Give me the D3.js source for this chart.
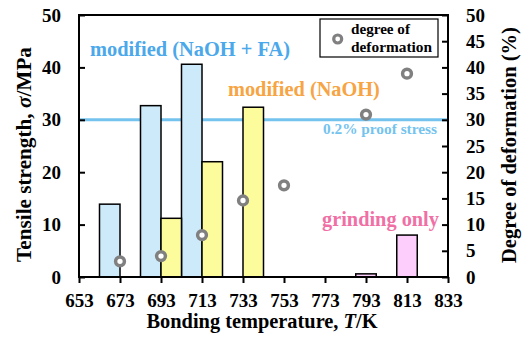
<!DOCTYPE html>
<html>
<head>
<meta charset="utf-8">
<script src="https://cdn.jsdelivr.net/npm/d3@7"></script>
</head>
<body style="margin:0; background:#fff">
<svg id="chart"></svg>
<script>
// temperature ticks (K)
const tempTicks = [653, 673, 693, 713, 733, 753, 773, 793, 813, 833];

// tensile strength (MPa)
const faTemps = [673, 693, 713];
const faStrength = [13.9, 32.7, 40.6];
const naohTemps = [693, 713, 733];
const naohStrength = [11.2, 22.0, 32.4];
const grindTemps = [793, 813];
const grindStrength = [0.6, 8.0];

// degree of deformation (%)
const defTemps = [673, 693, 713, 733, 753, 793, 813];
const deformation = [3.0, 4.0, 8.0, 14.6, 17.5, 31.0, 38.8];

const proofStress = 30;

const FONT = "'Liberation Serif', 'Times New Roman', serif";

const svgWidth = 523, svgHeight = 339;
const margin = { top: 15, bottom: 62, left: 79, right: 75 };
const width = svgWidth - margin.left - margin.right;
const height = svgHeight - margin.top - margin.bottom;

const svg = d3.select('#chart')
  .attr('width', svgWidth)
  .attr('height', svgHeight);
const g = svg.append('g')
  .attr('transform', 'translate(' + margin.left + ',' + margin.top + ')');

const x = d3.scaleLinear().domain([653, 833]).range([0, width]);
const y = d3.scaleLinear().domain([0, 50]).range([height, 0]);
const y2 = d3.scaleLinear().domain([0, 50]).range([height, 0]);

const barW = 10; // K

function setFont(sel, size) {
  return sel.attr('style', 'font-family:' + FONT + ';font-weight:bold;font-size:' + size + 'px');
}
// scale the font so the text spans the given width
function fit(sel, w) {
  const len = sel.node().getComputedTextLength();
  const fs = parseFloat(sel.node().style.fontSize);
  setFont(sel, (fs * w / len).toFixed(2));
  return sel;
}

function drawBars(temps, vals, offset, fill) {
  g.append('g').selectAll('rect')
    .data(temps.map((t, i) => [t, vals[i]]))
    .enter()
    .append('rect')
    .attr('x', d => x(d[0] + offset - barW / 2))
    .attr('width', d => x(d[0] + offset + barW / 2) - x(d[0] + offset - barW / 2))
    .attr('y', d => y(d[1]))
    .attr('height', d => y(0) - y(d[1]))
    .attr('fill', fill)
    .attr('stroke', '#000')
    .attr('stroke-width', 1.5);
}

// proof stress line
g.append('line')
  .attr('x1', 0).attr('x2', width)
  .attr('y1', y(proofStress)).attr('y2', y(proofStress))
  .attr('stroke', '#74c3ef')
  .attr('stroke-width', 3);

drawBars(faTemps, faStrength, -5, '#cdeafb');
drawBars(naohTemps, naohStrength, 5, '#fdfc9c');
drawBars(grindTemps, grindStrength, 0, '#fdcefb');

// deformation points
g.append('g').selectAll('circle')
  .data(defTemps.map((t, i) => [t, deformation[i]]))
  .enter()
  .append('circle')
  .attr('cx', d => x(d[0]))
  .attr('cy', d => y2(d[1]))
  .attr('r', 4.4)
  .attr('fill', '#fff')
  .attr('stroke', '#808080')
  .attr('stroke-width', 3.5);

function styleAxis(sel) {
  sel.attr('font-family', null).attr('font-size', null);
  sel.select('.domain').remove();
  sel.selectAll('line').attr('stroke', '#000').attr('stroke-width', 2);
  sel.selectAll('text').attr('fill', '#000').call(setFont, 19);
}

// axes
g.append('g')
  .attr('transform', 'translate(0,' + height + ')')
  .call(d3.axisBottom(x).tickValues(tempTicks).tickSize(6).tickSizeOuter(0).tickPadding(11).tickFormat(d3.format('d')))
  .call(styleAxis);
g.append('g')
  .call(d3.axisLeft(y).tickValues([0, 10, 20, 30, 40, 50]).tickSize(-6).tickSizeOuter(0).tickPadding(18))
  .call(styleAxis);
g.append('g')
  .attr('transform', 'translate(' + width + ',0)')
  .call(d3.axisRight(y2).ticks(10).tickSize(-6).tickSizeOuter(0).tickPadding(18))
  .call(styleAxis);

// frame
g.append('rect')
  .attr('width', width).attr('height', height)
  .attr('fill', 'none')
  .attr('stroke', '#000')
  .attr('stroke-width', 2);

// annotations (absolute coordinates)
svg.append('text').attr('x', 90).attr('y', 56).attr('fill', '#4ba8ea')
  .text('modified (NaOH + FA)').call(setFont, 20).call(fit, 200);
svg.append('text').attr('x', 228).attr('y', 96).attr('fill', '#f7a444')
  .text('modified (NaOH)').call(setFont, 20).call(fit, 152);
svg.append('text').attr('x', 323).attr('y', 134).attr('fill', '#74c3ef')
  .text('0.2% proof stress').call(setFont, 13).call(fit, 114);
svg.append('text').attr('x', 322).attr('y', 226).attr('fill', '#f070a5')
  .text('grinding only').call(setFont, 20).call(fit, 117);

// legend
const lg = svg.append('g');
lg.append('rect')
  .attr('x', 320).attr('y', 19)
  .attr('width', 118).attr('height', 38)
  .attr('fill', '#fff').attr('stroke', '#000').attr('stroke-width', 1.2);
lg.append('circle')
  .attr('cx', 337.7).attr('cy', 39).attr('r', 4)
  .attr('fill', '#fff').attr('stroke', '#808080').attr('stroke-width', 3.2);
lg.append('text').attr('x', 351).attr('y', 34).text('degree of').call(setFont, 14).call(fit, 59);
lg.append('text').attr('x', 351).attr('y', 52).text('deformation').call(setFont, 14).call(fit, 81);

// axis titles
const xt = svg.append('text')
  .attr('x', 262).attr('y', 328)
  .attr('text-anchor', 'middle');
xt.append('tspan').text('Bonding temperature, ');
xt.append('tspan').attr('font-style', 'italic').text('T');
xt.append('tspan').text('/K');
xt.call(setFont, 18).call(fit, 231);

const ylt = svg.append('text')
  .attr('transform', 'translate(31,154.5) rotate(-90)')
  .attr('text-anchor', 'middle');
ylt.append('tspan').text('Tensile strength, ');
ylt.append('tspan').attr('font-style', 'italic').text('σ');
ylt.append('tspan').text('/MPa');
ylt.call(setFont, 18).call(fit, 215);

svg.append('text')
  .attr('transform', 'translate(516,145) rotate(-90)')
  .attr('text-anchor', 'middle')
  .text('Degree of deformation (%)')
  .call(setFont, 18).call(fit, 236);
</script>
</body>
</html>
